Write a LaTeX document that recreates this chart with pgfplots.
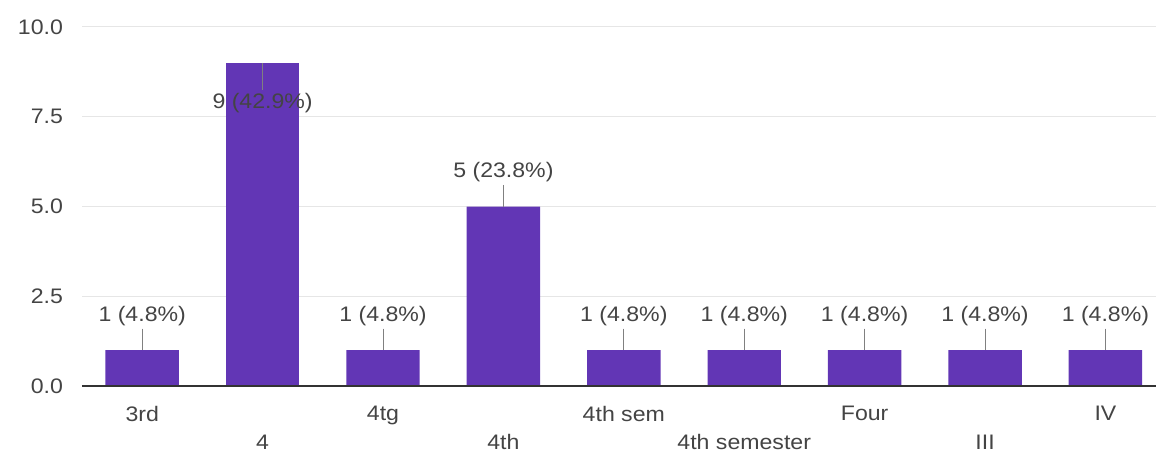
\documentclass[border=0pt]{standalone}
\usepackage{fontspec}
\setmainfont{Liberation Sans}[FakeStretch=1.1]
\usepackage{pgfplots}
\pgfplotsset{compat=1.18}
\definecolor{barpurple}{HTML}{6236B5}
\definecolor{gridgray}{HTML}{E6E6E6}
\definecolor{labgray}{HTML}{444444}
\definecolor{darkline}{HTML}{333333}
\begin{document}
\begin{tikzpicture}
\begin{axis}[
  scale only axis, width=537pt, height=179.5pt,
  xmin=-0.5, xmax=8.42, ymin=0, ymax=10,
  ytick={0,2.5,5,7.5,10},
  yticklabels={0.0,2.5,5.0,7.5,10.0},
  xtick={0,...,8},
  xticklabels={3rd,{\mbox{}\\[9.5pt]4},4tg,{\mbox{}\\[9.5pt]4th},4th sem,{\mbox{}\\[9.5pt]4th semester},Four,{\mbox{}\\[9.5pt]III},IV},
  xticklabel style={align=center, font=\fontsize{10.5}{12}\selectfont, text=labgray, anchor=north, yshift=-6.5pt},
  yticklabel style={font=\fontsize{10.5}{12}\selectfont, text=labgray, anchor=east, xshift=-6pt},
  axis line style={draw=none},
  major tick length=0pt,
  ymajorgrids, grid style={gridgray, line width=0.5pt},
  ybar, bar width=0.61, bar shift=0pt,
  clip=false,
  point meta=explicit symbolic,
  nodes near coords,
  every node near coord/.append style={font=\fontsize{10.5}{12}\selectfont, text=labgray, anchor=center},
  error bars/y explicit,
  error bars/error mark=none,
  error bars/error bar style={draw=gray, line width=0.5pt},
]
\addplot[fill=barpurple, draw=none, error bars/y dir=plus,
  nodes near coords style={yshift=17pt}] coordinates {
  (0,1) +- (0,0.6) [1 (4.8\%)]
  (2,1) +- (0,0.6) [1 (4.8\%)]
  (3,5) +- (0,0.6) [5 (23.8\%)]
  (4,1) +- (0,0.6) [1 (4.8\%)]
  (5,1) +- (0,0.6) [1 (4.8\%)]
  (6,1) +- (0,0.6) [1 (4.8\%)]
  (7,1) +- (0,0.6) [1 (4.8\%)]
  (8,1) +- (0,0.6) [1 (4.8\%)]
};
\addplot[fill=barpurple, draw=none, error bars/y dir=minus,
  nodes near coords style={yshift=-20pt}] coordinates {
  (1,9) +- (0,0.75) [9 (42.9\%)]
};
\draw[darkline, line width=1pt] (rel axis cs:0,0) -- (rel axis cs:1,0);
\end{axis}
\pgfresetboundingbox
\path ([xshift=-41pt,yshift=-35pt]current axis.south west) rectangle ([yshift=13.5pt]current axis.north east);
\end{tikzpicture}
\end{document}
